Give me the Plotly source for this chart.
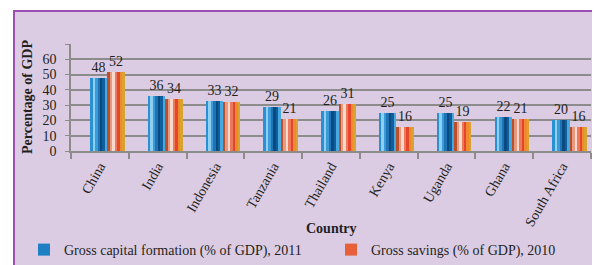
import plotly.graph_objects as go

countries = ["China", "India", "Indonesia", "Tanzania", "Thailand", "Kenya", "Uganda", "Ghana", "South Africa"]
capital_formation = [48, 36, 33, 29, 26, 25, 25, 22, 20]
gross_savings = [52, 34, 32, 21, 31, 16, 19, 21, 16]
series_names = ["Gross capital formation (% of GDP), 2011", "Gross savings (% of GDP), 2010"]
y_tick_vals = [0, 10, 20, 30, 40, 50, 60, 70]
y_tick_text = ["0", "10", "20", "30", "40", "50", "60", ""]

# page body has an 8px margin; size the figure so that it fits the window
PAD = 8
W, H = 600 - PAD, 265 - PAD
L, R, T, B = 71 - PAD, 9, 44 - PAD, 114
pw, ph = W - L - R, H - T - B
def px(X): return (X - PAD - L) / pw          # reference screen x -> paper x
def py(Y): return (H - B - (Y - PAD)) / ph    # reference screen y -> paper y

FONT = "Liberation Serif"
TXT = "#231f20"

blue_stripes = ['#2a90d4', '#8fd0f2', '#3c9ad6', '#1e73b4', '#0b4a80', '#0f5f9c', '#49a8e0']
red_stripes = ['#b9502c', '#e89a80', '#f8d8cc', '#ec7a5a', '#e5452a', '#f08a2e', '#d9a332']

fig = go.Figure()
bw = 0.3
specs = [(capital_formation, series_names[0], -0.17, blue_stripes, '#1f7fc4', 'legend'),
         (gross_savings, series_names[1], 0.13, red_stripes, '#e8603a', 'legend2')]
for vals, name, off, stripes, base, lg in specs:
    fig.add_trace(go.Bar(x=countries, y=vals, name=name, width=bw, offset=off, legend=lg,
                         marker=dict(color=base, line=dict(width=0)),
                         text=[str(v) for v in vals], textposition='outside',
                         constraintext='none', cliponaxis=False,
                         textfont=dict(family=FONT, size=14, color=TXT)))
    n = len(stripes)
    sw = bw / n
    for i, c in enumerate(stripes):
        fig.add_trace(go.Bar(x=countries, y=vals, width=sw * 1.02, offset=off + i * sw,
                             marker=dict(color=c, line=dict(width=0)),
                             showlegend=False, hoverinfo='skip'))

shapes = [
    dict(type='rect', xref='paper', yref='paper', x0=px(0), x1=px(600), y0=py(0), y1=py(10.5),
         fillcolor='white', line=dict(width=0), layer='below'),
    dict(type='rect', xref='paper', yref='paper', x0=px(0), x1=px(13), y0=py(0), y1=py(265),
         fillcolor='white', line=dict(width=0), layer='below'),
    dict(type='line', xref='paper', yref='paper', x0=px(13), x1=px(600), y0=py(11), y1=py(11),
         line=dict(color='#9b4fb5', width=2)),
    dict(type='line', xref='paper', yref='paper', x0=px(14), x1=px(14), y0=py(10), y1=py(265),
         line=dict(color='#9b4fb5', width=2)),
]

annotations = [
    dict(text="<b>Percentage of GDP</b>", xref='paper', yref='paper', x=px(27), y=py(97),
         xanchor='center', yanchor='middle',
         textangle=-90, showarrow=False, font=dict(family=FONT, size=14, color=TXT)),
    dict(text="<b>Country</b>", xref='paper', yref='paper', x=px(331), y=py(228),
         xanchor='center', yanchor='middle',
         showarrow=False, font=dict(family=FONT, size=14, color=TXT)),
]

legend_common = dict(orientation='h', xref='container', yref='container',
                     xanchor='left', yanchor='middle', itemwidth=30,
                     bgcolor='rgba(0,0,0,0)', font=dict(family=FONT, size=14, color=TXT))

fig.update_layout(
    template='none',
    width=W, height=H, margin=dict(l=L, r=R, t=T, b=B, autoexpand=False),
    paper_bgcolor='#dbcce4', plot_bgcolor='rgba(0,0,0,0)',
    barmode='overlay', bargap=0,
    showlegend=True,
    legend=dict(x=(24 - PAD) / W, y=1 - (250 - PAD) / H, **legend_common),
    legend2=dict(x=(331 - PAD) / W, y=1 - (250 - PAD) / H, **legend_common),
    shapes=shapes, annotations=annotations,
    xaxis=dict(type='category', range=[-0.5, 8.5], tickangle=-60, tickson='boundaries',
               ticks='outside', ticklen=6, tickcolor='#8c8c8c', tickwidth=1.5,
               showline=True, linecolor='#8c8c8c', linewidth=1.5, showgrid=False,
               automargin=False,
               tickfont=dict(family=FONT, size=14, color=TXT)),
    yaxis=dict(range=[0, 70], tickvals=y_tick_vals, ticktext=y_tick_text,
               showgrid=True, gridcolor='#8c8c8c', gridwidth=1.5, zeroline=False,
               showline=True, linecolor='#8c8c8c', linewidth=1.5,
               ticks='outside', ticklen=4, tickcolor='#8c8c8c', automargin=False,
               ticklabelstandoff=6,
               tickfont=dict(family=FONT, size=14, color=TXT)),
)

fig.write_html("out.html")
